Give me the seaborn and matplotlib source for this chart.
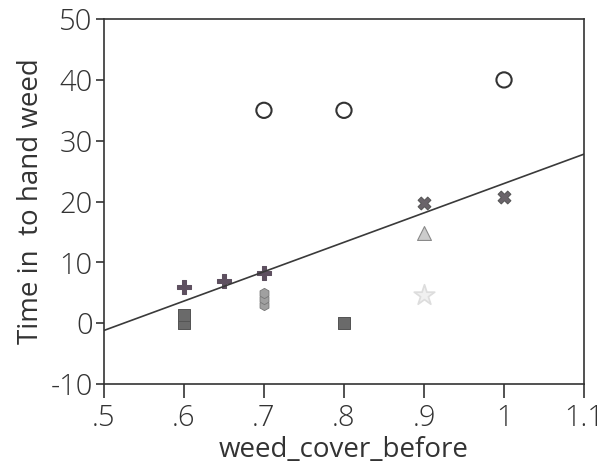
#!/usr/bin/env python3

from matplotlib import pyplot as plt
import pandas as pd
import seaborn as sns

# Values, one list per marker group
circle_x = [0.7, 0.8, 1.0]
circle_y = [35, 35, 40]
plus_x = [0.6, 0.65, 0.7]
plus_y = [6, 7, 8.2]
square_x = [0.6, 0.6, 0.8]
square_y = [0, 1.3, 0]
cluster_x = [0.7, 0.7, 0.7]
cluster_y = [3, 4, 5]
cross_x = [0.9, 1.0]
cross_y = [19.8, 20.8]
triangle_x = [0.9]
triangle_y = [14.8]
star_x = [0.9]
star_y = [4.6]

# Fitted line as drawn in the chart (end points)
fit_x = [0.5, 1.1]
fit_y = [-1.2, 27.8]

x_ticks = [0.5, 0.6, 0.7, 0.8, 0.9, 1.0, 1.1]
x_tick_labels = [".5", ".6", ".7", ".8", ".9", "1", "1.1"]
y_ticks = [-10, 0, 10, 20, 30, 40, 50]


def main():
    sns.set_style("ticks")
    plt.rcParams["font.family"] = ["Open Sans", "DejaVu Sans"]
    plt.rcParams["font.weight"] = "light"
    plt.rcParams["axes.unicode_minus"] = False

    fig = plt.figure(figsize=(6.04, 4.66), dpi=100)
    ax = fig.add_axes([0.172, 0.176, 0.795, 0.783])

    sns.lineplot(x=fit_x, y=fit_y, ax=ax, color="#3a3a3a", lw=1.2)

    groups = [
            (circle_x, circle_y, dict(marker="o", s=120, facecolor="none",
                                      edgecolor="#333333", linewidth=1.5)),
            (plus_x, plus_y, dict(marker="P", s=90, color="#5e5060",
                                  edgecolor="#5e5060")),
            (square_x, square_y, dict(marker="s", s=80, color="#6a6a6a",
                                      edgecolor="#555555")),
            (cluster_x, cluster_y, dict(marker="h", s=55, color="#a0a0a0",
                                        edgecolor="#777777")),
            (cross_x, cross_y, dict(marker="X", s=85, color="#6a646a",
                                    edgecolor="#555555")),
            (triangle_x, triangle_y, dict(marker="^", s=100, color="#cccccc",
                                          edgecolor="#8a8a8a")),
            (star_x, star_y, dict(marker="*", s=240, color="#f0f0f0",
                                  edgecolor="#dddddd")),
            ]
    for gx, gy, kw in groups:
        df = pd.DataFrame({"x": gx, "y": gy})
        sns.scatterplot(data=df, x="x", y="y", ax=ax, legend=False, **kw)

    ax.set_xlim(0.5, 1.1)
    ax.set_ylim(-10, 50)
    ax.set_xticks(x_ticks)
    ax.set_xticklabels(x_tick_labels)
    ax.set_yticks(y_ticks)

    for side in ["left", "bottom", "right", "top"]:
        ax.spines[side].set_visible(True)
        ax.spines[side].set_color("#333333")
        ax.spines[side].set_linewidth(1.2)

    ax.tick_params(axis="x", length=10, width=1.2, color="#333333",
                   labelsize=21, labelcolor="#333333", pad=4)
    ax.tick_params(axis="y", length=6, width=1.2, color="#333333",
                   labelsize=21, labelcolor="#333333", pad=2)

    ax.set_xlabel("weed_cover_before", fontsize=20, color="#333333",
                  labelpad=2)
    ax.set_ylabel("Time in  to hand weed", fontsize=20, color="#333333",
                  labelpad=4)

    plt.savefig("out.png", dpi=100)


if __name__ == "__main__":
    main()
